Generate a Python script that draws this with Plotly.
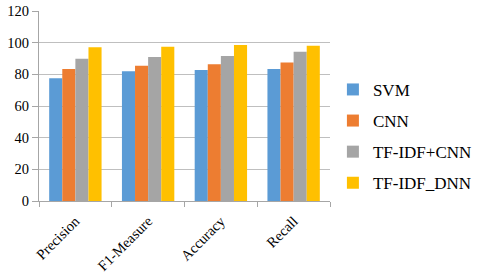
import plotly.graph_objects as go

categories = ["Precision", "F1-Measure", "Accuracy", "Recall"]
svm = [77.5, 81.9, 82.8, 83.4]
cnn = [83.4, 85.5, 86.3, 87.4]
tfidf_cnn = [89.9, 91.0, 91.6, 94.3]
tfidf_dnn = [97.1, 97.5, 98.5, 98.1]

series = [
    ("SVM", svm, "#5B9BD5"),
    ("CNN", cnn, "#ED7D31"),
    ("TF-IDF+CNN", tfidf_cnn, "#A5A5A5"),
    ("TF-IDF_DNN", tfidf_dnn, "#FFC000"),
]

fig = go.Figure()
for i, (name, vals, col) in enumerate(series):
    fig.add_trace(go.Bar(x=categories, y=vals, name=name, marker_color=col,
                         marker_line_width=0, legendgroup=f"g{i}"))

serif = "Liberation Serif, Times New Roman, serif"
font = dict(family=serif, size=14.5, color="#000000")
fig.update_layout(
    width=480, height=275,
    margin=dict(l=39, r=150, t=11, b=74, autoexpand=False),
    paper_bgcolor="white", plot_bgcolor="white",
    barmode="group", bargap=0.28, bargroupgap=0,
    font=font,
    showlegend=True,
    legend=dict(x=1.010, y=0.34, xanchor="left", yanchor="middle",
                font=dict(family=serif, size=17, color="#000000"),
                tracegroupgap=6, itemwidth=30, bgcolor="rgba(0,0,0,0)"),
    xaxis=dict(showline=True, linecolor="#a6a6a6", linewidth=1, automargin=False,
               ticks="outside", tickson="boundaries", ticklen=5, tickcolor="#a6a6a6",
               tickangle=-45, tickfont=font, ticklabelstandoff=5),
    yaxis=dict(range=[0, 120], dtick=20, showgrid=True, gridcolor="#bfbfbf", gridwidth=1,
               showline=True, linecolor="#a6a6a6", ticks="outside", ticklen=6,
               automargin=False,
               tickcolor="#a6a6a6", tickfont=font, zeroline=False),
)
fig.write_html("out.html", config={"displayModeBar": False},
               post_script="document.body.style.margin='0';")
